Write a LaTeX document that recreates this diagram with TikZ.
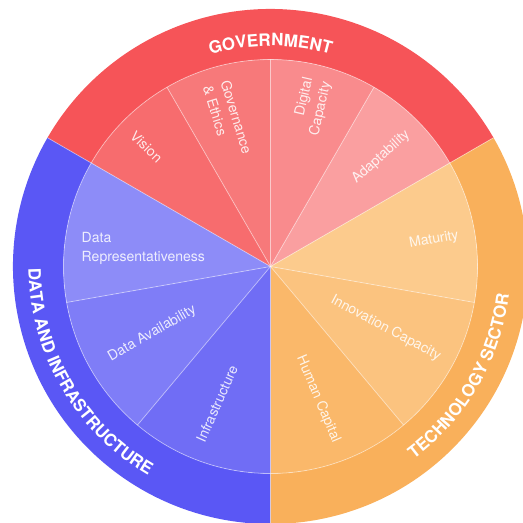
\documentclass[tikz,border=0pt]{standalone}
\usepackage{fontspec}
\setmainfont{TeX Gyre Heros}
\usetikzlibrary{decorations.text}
\definecolor{ringred}{RGB}{246,84,88}
\definecolor{cvision}{RGB}{247,108,110}
\definecolor{cgov}{RGB}{247,121,122}
\definecolor{cdigital}{RGB}{249,139,141}
\definecolor{cadapt}{RGB}{250,159,160}
\definecolor{ringblue}{RGB}{90,87,245}
\definecolor{cdatarep}{RGB}{141,140,248}
\definecolor{cdataavail}{RGB}{127,125,247}
\definecolor{cinfra}{RGB}{112,109,245}
\definecolor{ringorange}{RGB}{249,176,91}
\definecolor{cmaturity}{RGB}{252,203,141}
\definecolor{cinnov}{RGB}{251,195,127}
\definecolor{chuman}{RGB}{250,184,106}
\begin{document}
\begin{tikzpicture}[x=1pt,y=1pt,
  spoke/.style={draw=white, draw opacity=0.45, line width=0.8pt},
  lbl/.style={text=white, text opacity=0.85, font=\fontsize{14}{18.5}\selectfont, inner sep=0pt},
  ringtext/.style={decorate, decoration={text along path, text align=center, text color=white,
     text={|\fontsize{17}{17}\selectfont\bfseries|#1}}}
  ]
\useasboundingbox (0,0) rectangle (523,523);
\begin{scope}[shift={(270.5,256.5)}]
\def\Rin{207pt}
\def\Rout{257.5pt}
% outer ring sectors
\fill[ringred] (30:\Rout) arc[start angle=30,end angle=150,radius=\Rout] -- (150:\Rin) arc[start angle=150,end angle=30,radius=\Rin] -- cycle;
\fill[ringblue] (150:\Rout) arc[start angle=150,end angle=270,radius=\Rout] -- (270:\Rin) arc[start angle=270,end angle=150,radius=\Rin] -- cycle;
\fill[ringorange] (270:\Rout) arc[start angle=270,end angle=390,radius=\Rout] -- (30:\Rin) arc[start angle=30,end angle=-90,radius=\Rin] -- cycle;
% inner wedges
\foreach \a/\b/\c in {150/120/cvision, 120/90/cgov, 90/60/cdigital, 60/30/cadapt,
                      30/-10/cmaturity, -10/-50/cinnov, -50/-90/chuman,
                      150/190/cdatarep, 190/230/cdataavail, 230/270/cinfra}
  \fill[\c] (0,0) -- (\a:\Rin) arc[start angle=\a,end angle=\b,radius=\Rin] -- cycle;
% spokes
\foreach \a in {120,90,60,-10,-50,190,230}
  \draw[spoke] (0,0) -- (\a:\Rin);
\foreach \a in {30,150,270}
  \draw[spoke] (0,0) -- (\a:\Rout);
\draw[spoke] (0,0) circle[radius=\Rin];
% inner labels
\node[lbl, rotate=-44] (vision) at (136:172.5pt) {Vision};
\node[lbl, rotate=-73, align=left] (gov) at (106.3:153pt) {Governance\\\& Ethics};
\node[lbl, rotate=77, align=right] (digital) at (75.5:165pt) {Digital\\Capacity};
\node[lbl, rotate=42] (adapt) at (44.7:155.6pt) {Adaptability};
\node[lbl, rotate=10] (maturity) at (9.2:165.6pt) {Maturity};
\node[lbl, rotate=-28] (innov) at (-28.2:130.8pt) {Innovation Capacity};
\node[lbl, rotate=-67] (human) at (-70.2:141pt) {Human Capital};
\node[lbl, rotate=66] (infra) at (248.7:147.5pt) {Infrastructure};
\node[lbl, rotate=30] (avail) at (209.6:136pt) {Data Availability};
\node[lbl, align=left] (datarep) at (171.8:128.5pt) {Data\\Representativeness};
% ring labels
\path[ringtext=GOVERNMENT] (150:220.5pt) arc[start angle=150,end angle=30,radius=220.5pt];
\path[ringtext=DATA AND INFRASTRUCTURE] (150:242pt) arc[start angle=150,end angle=270,radius=242pt];
\path[ringtext=TECHNOLOGY SECTOR] (270:240pt) arc[start angle=270,end angle=390,radius=240pt];
\end{scope}
\end{tikzpicture}
\end{document}
